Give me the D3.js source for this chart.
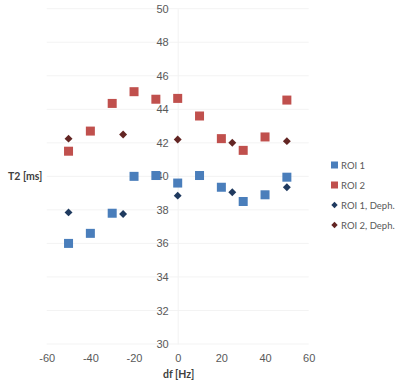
<!DOCTYPE html>
<html><head><meta charset="utf-8">
<script src="https://cdn.jsdelivr.net/npm/d3@7"></script>
<style>body{margin:0;background:#fff;}svg{display:block;font-family:Lato,"Open Sans",sans-serif;}</style>
</head><body>
<svg id="c" width="400" height="386"></svg>
<script>
const xTicks = [-60, -40, -20, 0, 20, 40, 60];
const yTicks = [30, 32, 34, 36, 38, 40, 42, 44, 46, 48, 50];
const dfAll = [-50, -40, -30, -20, -10, 0, 10, 20, 30, 40, 50];
const roi1 = [36.0, 36.6, 37.8, 40.0, 40.05, 39.6, 40.05, 39.35, 38.5, 38.9, 39.95];
const roi2 = [41.5, 42.7, 44.35, 45.05, 44.6, 44.65, 43.6, 42.25, 41.55, 42.35, 44.55];
const dfDeph = [-50, -25, 0, 25, 50];
const roi1Deph = [37.85, 37.75, 38.85, 39.05, 39.35];
const roi2Deph = [42.25, 42.5, 42.2, 42.0, 42.1];
const seriesNames = ["ROI 1", "ROI 2", "ROI 1, Deph.", "ROI 2, Deph."];

const svg = d3.select("#c");
const x = d3.scaleLinear().domain([-60, 60]).range([46.7, 308.7]);
const y = d3.scaleLinear().domain([30, 50]).range([344, 8.7]);

// faint gridlines
svg.append("g").selectAll("line").data(yTicks).join("line")
  .attr("x1", x(-60)).attr("x2", x(60))
  .attr("y1", d => y(d)).attr("y2", d => y(d))
  .attr("stroke", "#f3f3f3").attr("stroke-width", 1);

// y axis at x=0
const yAxis = d3.axisLeft(y).tickValues(yTicks).tickSize(0).tickPadding(9).tickFormat(d => String(d));
const gy = svg.append("g").attr("transform", `translate(${x(0)},0)`).call(yAxis);
gy.select(".domain").attr("stroke", "#f2f2f2");
gy.selectAll("text").attr("fill", "#595959").attr("font-size", 11);

// x axis at bottom
const xAxis = d3.axisBottom(x).tickValues(xTicks).tickSize(0).tickPadding(10).tickFormat(d => String(d));
const gx = svg.append("g").attr("transform", `translate(0,${y(30)})`).call(xAxis);
gx.select(".domain").remove();
gx.selectAll("text").attr("fill", "#595959").attr("font-size", 11);

// axis titles
svg.append("text").attr("x", 8).attr("y", 180).attr("font-size", 10.5).attr("font-weight", "bold")
  .attr("fill", "#404040").text("T2 [ms]");
svg.append("text").attr("x", 163).attr("y", 378).attr("font-size", 10.5).attr("font-weight", "bold")
  .attr("fill", "#404040").text("df [Hz]");

const sq = 9;
function squares(xs, ys, color) {
  svg.append("g").selectAll("rect").data(xs.map((d, i) => [d, ys[i]])).join("rect")
    .attr("x", d => x(d[0]) - sq / 2).attr("y", d => y(d[1]) - sq / 2)
    .attr("width", sq).attr("height", sq).attr("fill", color);
}
const diamond = d3.symbol().type(d3.symbolDiamond2).size(40);
function diamonds(xs, ys, color) {
  svg.append("g").selectAll("path").data(xs.map((d, i) => [d, ys[i]])).join("path")
    .attr("transform", d => `translate(${x(d[0])},${y(d[1])})`)
    .attr("d", diamond).attr("fill", color);
}
const colors = ["#4a7ebb", "#c0504d", "#1f3a5f", "#632523"];
squares(dfAll, roi1, colors[0]);
squares(dfAll, roi2, colors[1]);
diamonds(dfDeph, roi1Deph, colors[2]);
diamonds(dfDeph, roi2Deph, colors[3]);

// legend
const lg = svg.append("g");
seriesNames.forEach((name, i) => {
  const cy = 165 + i * 20;
  if (i < 2) {
    lg.append("rect").attr("x", 331).attr("y", cy - 3.5).attr("width", 7).attr("height", 7).attr("fill", colors[i]);
  } else {
    lg.append("path").attr("transform", `translate(334.5,${cy})`)
      .attr("d", d3.symbol().type(d3.symbolDiamond2).size(26)).attr("fill", colors[i]);
  }
  lg.append("text").attr("x", 341).attr("y", cy + 3.5).attr("font-size", 9.5).attr("fill", "#595959").text(name);
});
</script>
</body></html>
